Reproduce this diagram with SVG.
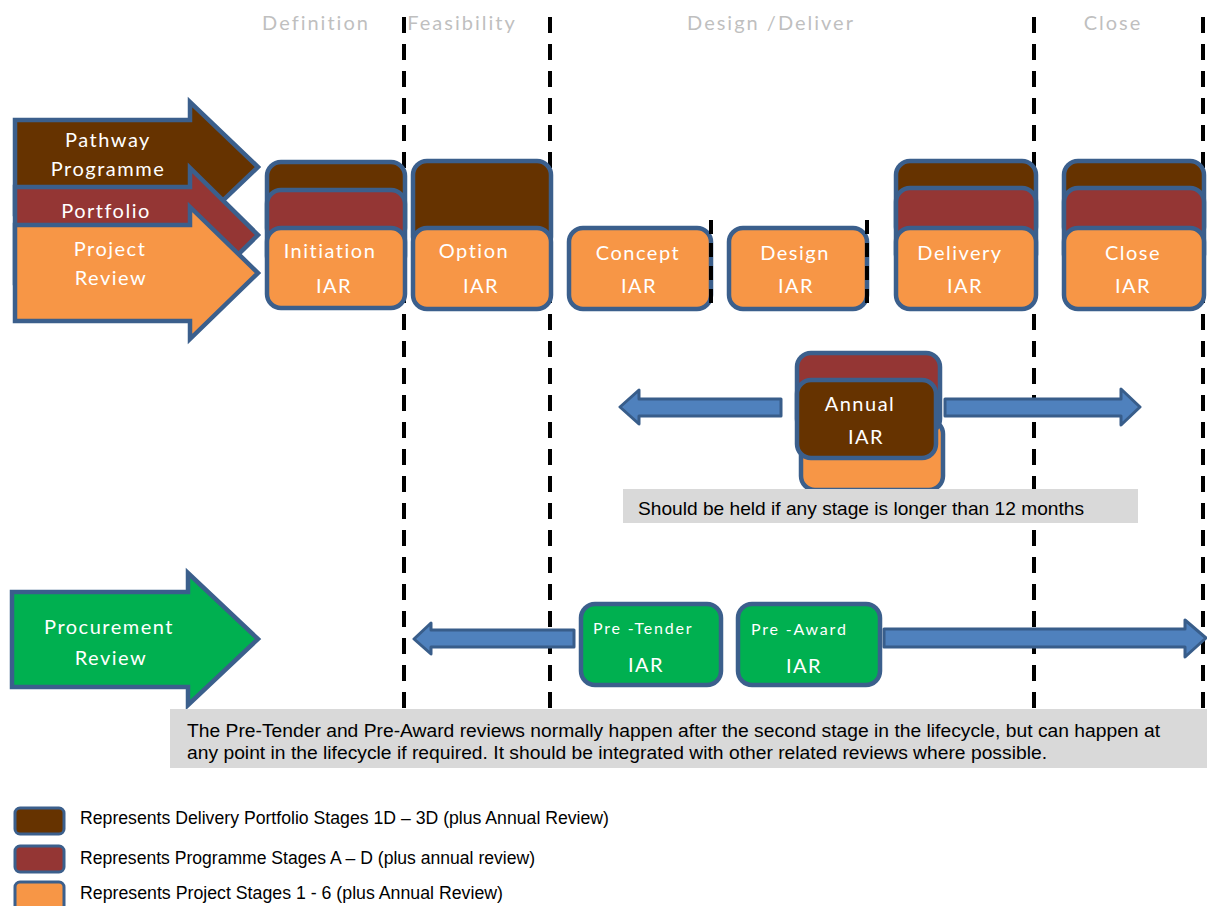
<svg xmlns="http://www.w3.org/2000/svg" width="1207" height="906" viewBox="0 0 1207 906">
<style>
.bg{fill:#fff}
.vline{stroke:#000;stroke-width:4;stroke-dasharray:16 11;fill:none}
.sline{stroke:#000;stroke-width:4;stroke-dasharray:14 9;fill:none}
.brown{fill:#663300;stroke:#3b5f8c;stroke-width:4.5}
.red{fill:#943634;stroke:#3b5f8c;stroke-width:4.5}
.orange{fill:#f79646;stroke:#3b5f8c;stroke-width:4.5}
.green{fill:#00b050;stroke:#3b5f8c;stroke-width:4.5}
.barrow{fill:#4f81bd;stroke:#385d8a;stroke-width:3;stroke-linejoin:round}
.w{font-family:Lato,"Open Sans",sans-serif;fill:#fff;font-size:20px;letter-spacing:1.5px}
.ws{font-family:Lato,"Open Sans",sans-serif;fill:#fff;font-size:16px;letter-spacing:1.8px}
.hdr{font-family:Lato,"Open Sans",sans-serif;fill:#bfbfbf;font-size:20px;letter-spacing:2px}
.note{fill:#d9d9d9}
.t{font-family:"Liberation Sans",Arial,sans-serif;fill:#000;font-size:17.5px}
.m{text-anchor:middle}
</style>
<rect class="bg" x="0" y="0" width="1207" height="906"/>

<g id="phase-lines">
<line class="vline" x1="404" y1="17" x2="404" y2="709"/>
<line class="vline" x1="550" y1="17" x2="550" y2="709"/>
<line class="vline" x1="1034" y1="17" x2="1034" y2="709"/>
<line class="vline" x1="1203" y1="17" x2="1203" y2="709"/>
</g>

<g id="headers">
<text class="hdr m" x="316" y="30">Definition</text>
<text class="hdr m" x="462" y="30">Feasibility</text>
<text class="hdr m" x="771" y="30">Design /Deliver</text>
<text class="hdr m" x="1113" y="30">Close</text>
</g>

<g id="pathway-arrow">
<path class="brown" d="M15,120 H190 V102 L258,167 L190,232 V214 H15 Z"/>
</g>
<g id="portfolio-arrow">
<path class="red" d="M15,187 H190 V168 L258,235 L190,302 V283 H15 Z"/>
</g>
<g id="project-arrow">
<path class="orange" d="M15,225 H190 V207 L258,273 L190,339 V321 H15 Z"/>
<text class="w m" x="108" y="147">Pathway</text>
<text class="w m" x="108" y="176">Programme</text>
<text class="w m" x="106" y="218">Portfolio</text>
<text class="w m" x="110" y="256">Project</text>
<text class="w m" x="111" y="285">Review</text>
</g>

<g id="initiation">
<rect class="brown" x="267" y="162" width="138" height="80" rx="14"/>
<rect class="red" x="267" y="190" width="138" height="80" rx="14"/>
<rect class="orange" x="267" y="228" width="138" height="80" rx="14"/>
<text class="w m" x="330" y="258">Initiation</text>
<text class="w m" x="334" y="293">IAR</text>
</g>
<g id="option">
<rect class="brown" x="413" y="161" width="138" height="90" rx="14"/>
<rect class="orange" x="413" y="228" width="138" height="81" rx="14"/>
<text class="w m" x="474" y="258">Option</text>
<text class="w m" x="481" y="293">IAR</text>
</g>
<g id="concept">
<rect class="orange" x="569" y="228" width="142" height="81" rx="14"/>
<text class="w m" x="638" y="260">Concept</text>
<text class="w m" x="639" y="293">IAR</text>
</g>
<g id="design">
<rect class="orange" x="729" y="228" width="138" height="81" rx="14"/>
<text class="w m" x="795" y="260">Design</text>
<text class="w m" x="796" y="293">IAR</text>
</g>
<g id="stage-dividers">
<line class="sline" x1="711" y1="220" x2="711" y2="309"/>
<line class="sline" x1="867" y1="220" x2="867" y2="309"/>
</g>
<g id="delivery">
<rect class="brown" x="896" y="161" width="140" height="80" rx="14"/>
<rect class="red" x="896" y="188" width="140" height="80" rx="14"/>
<rect class="orange" x="896" y="228" width="140" height="81" rx="14"/>
<text class="w m" x="960" y="260">Delivery</text>
<text class="w m" x="965" y="293">IAR</text>
</g>
<g id="close">
<rect class="brown" x="1064" y="161" width="140" height="80" rx="14"/>
<rect class="red" x="1064" y="188" width="140" height="80" rx="14"/>
<rect class="orange" x="1064" y="228" width="140" height="81" rx="14"/>
<text class="w m" x="1133" y="260">Close</text>
<text class="w m" x="1133" y="293">IAR</text>
</g>

<g id="annual">
<rect class="orange" x="801" y="420" width="142" height="70" rx="14"/>
<rect class="red" x="797" y="353" width="143" height="80" rx="14"/>
<rect class="brown" x="797" y="380" width="139" height="78" rx="14"/>
<text class="w m" x="860" y="411">Annual</text>
<text class="w m" x="866" y="444">IAR</text>
</g>

<g id="procurement-arrow">
<path class="green" d="M12,592 H188 V573 L258,639 L188,705 V687 H12 Z"/>
<text class="w m" x="109" y="634">Procurement</text>
<text class="w m" x="111" y="665">Review</text>
</g>

<g id="connectors">
<path class="barrow" d="M781,399 V416 H639 V424 L620,407 L639,390 V399 Z"/>
<path class="barrow" d="M945,399 V416 H1121 V425 L1140,407 L1121,389 V399 Z"/>
<path class="barrow" d="M574,630 V647 H431 V654 L414,639 L431,623 V630 Z"/>
<path class="barrow" d="M884,629 V647 H1185 V657 L1206,638 L1185,620 V629 Z"/>
</g>

<g id="pre-tender">
<rect class="green" x="581" y="604" width="140" height="81" rx="14"/>
<text class="ws" x="593" y="634">Pre -Tender</text>
<text class="w m" x="646" y="672">IAR</text>
</g>
<g id="pre-award">
<rect class="green" x="738" y="604" width="142" height="81" rx="14"/>
<text class="ws" x="751" y="635">Pre -Award</text>
<text class="w m" x="804" y="673">IAR</text>
</g>

<g id="annual-note">
<rect class="note" x="623" y="489" width="515" height="34"/>
<text class="t" x="638" y="515" textLength="446" lengthAdjust="spacingAndGlyphs" style="font-size:19px">Should be held if any stage is longer than 12 months</text>
</g>

<g id="procurement-note">
<rect class="note" x="170" y="709" width="1037" height="59"/>
<text class="t" x="187" y="737" textLength="973" lengthAdjust="spacingAndGlyphs">The Pre-Tender  and  Pre-Award  reviews  normally happen after the second stage in the lifecycle, but can happen at</text>
<text class="t" x="187" y="759" textLength="860" lengthAdjust="spacingAndGlyphs">any point in the lifecycle if required. It should be integrated with other related reviews  where  possible.</text>
</g>

<g id="legend">
<rect class="brown" x="15" y="808" width="49" height="26" rx="5" style="stroke-width:3"/>
<text class="t" x="80" y="824" textLength="529" lengthAdjust="spacingAndGlyphs">Represents Delivery Portfolio Stages 1D  –  3D (plus Annual Review)</text>
<rect class="red" x="15" y="846" width="49" height="26" rx="5" style="stroke-width:3"/>
<text class="t" x="80" y="864" textLength="455" lengthAdjust="spacingAndGlyphs">Represents Programme Stages A – D  (plus annual review)</text>
<rect class="orange" x="15" y="882" width="49" height="30" rx="5" style="stroke-width:3"/>
<text class="t" x="80" y="899" textLength="423" lengthAdjust="spacingAndGlyphs">Represents Project Stages 1  - 6  (plus Annual Review)</text>
</g>
</svg>
